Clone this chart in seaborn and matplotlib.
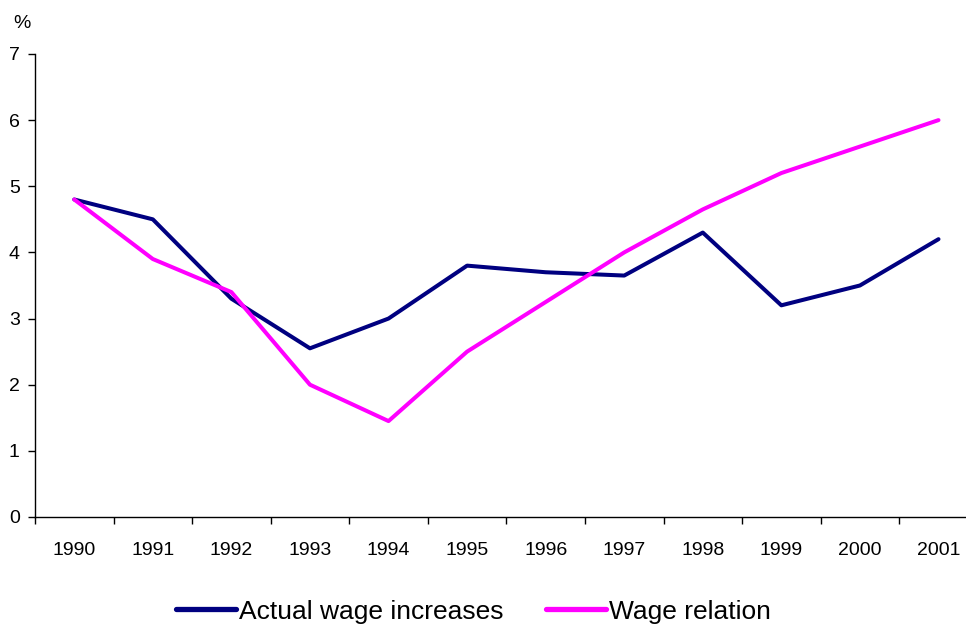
import pandas as pd
import matplotlib
matplotlib.use("Agg")
import matplotlib.pyplot as plt
import seaborn as sns

# values
years = ["1990", "1991", "1992", "1993", "1994", "1995",
         "1996", "1997", "1998", "1999", "2000", "2001"]
actual_wage = [4.8, 4.5, 3.3, 2.55, 3.0, 3.8, 3.7, 3.65, 4.3, 3.2, 3.5, 4.2]
wage_relation = [4.8, 3.9, 3.4, 2.0, 1.45, 2.5, 3.25, 4.0, 4.65, 5.2, 5.6, 6.0]
series_names = ["Actual wage increases", "Wage relation"]

df = pd.DataFrame({
    "year": years * 2,
    "value": actual_wage + wage_relation,
    "series": [series_names[0]] * len(years) + [series_names[1]] * len(years),
})

sns.set_style("ticks")
plt.rcParams["font.family"] = ["Liberation Sans", "DejaVu Sans"]
plt.rcParams["text.color"] = "black"
plt.rcParams["xtick.color"] = "black"
plt.rcParams["ytick.color"] = "black"

fig = plt.figure(figsize=(9.66, 6.24), dpi=100)
ax = fig.add_axes([0.0362, 0.1715, 0.976, 0.742])

sns.lineplot(data=df, x="year", y="value", hue="series", sort=False,
             palette=["#000080", "#FF00FF"], linewidth=2.9, ax=ax, legend=False)

ax.set_xlim(-0.5, len(years) - 0.5)
ax.set_ylim(0, 7)
ax.set_yticks(range(0, 8))
ax.set_xticks(range(len(years)))
ax.set_xticks([i + 0.5 for i in range(-1, len(years))], minor=True)
ax.tick_params(axis="x", which="major", bottom=False, length=0, pad=18, labelsize=14)
ax.tick_params(axis="x", which="minor", bottom=True, length=5, width=1, direction="out")
ax.tick_params(axis="y", left=True, length=5, width=1, direction="out", labelsize=14, pad=6)
ax.set_xlabel("")
ax.set_ylabel("")
for s in ["top", "right"]:
    ax.spines[s].set_visible(False)
for s in ["left", "bottom"]:
    ax.spines[s].set_color("black")
    ax.spines[s].set_linewidth(1)

fig.text(0.023, 0.962, "%", fontsize=14, ha="center", va="center")

handles = [plt.Line2D([], [], color="#000080", lw=3.8),
           plt.Line2D([], [], color="#FF00FF", lw=3.8)]
fig.legend(handles, series_names, loc="center", bbox_to_anchor=(0.49, 0.02),
           ncol=2, frameon=False, fontsize=19, handlelength=2.3,
           handletextpad=0.1, columnspacing=1.6)

fig.savefig("out.png", dpi=100)
